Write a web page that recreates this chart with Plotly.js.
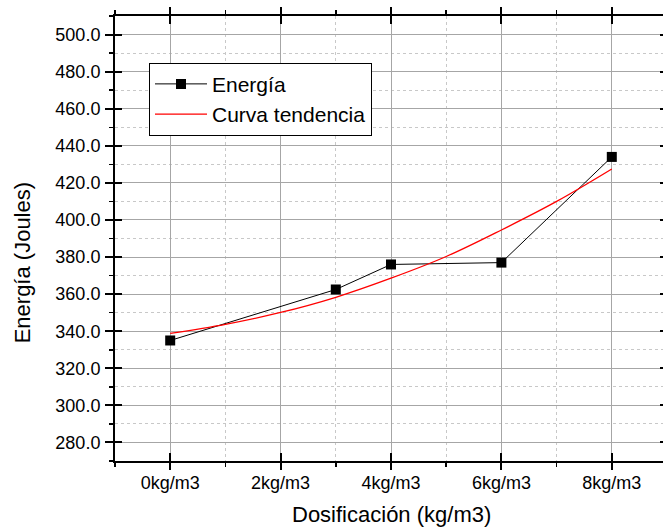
<!DOCTYPE html>
<html>
<head>
<meta charset="utf-8">
<script src="https://cdn.plot.ly/plotly-3.0.1.min.js"></script>
<style>
  html, body { margin: 0; padding: 0; overflow: hidden; background: #ffffff; }
  #chart { width: 700px; height: 529px; }
</style>
</head>
<body>
<div id="chart"></div>
<script>
// Dosage (kg/m3) and measured energy (J)
const dosage = [0, 3, 4, 6, 8];
const energy = [335, 362.5, 376, 377, 434];

// Trend curve sampled along the dosage axis
const trendX = [0, 1, 2, 3, 4, 5, 6, 7, 8];
const trendY = [338.8, 343.7, 350.1, 358.3, 368.6, 380.3, 394.6, 410.0, 427.5];

// Axis tick labels
const xTickVals = [0, 2, 4, 6, 8];
const xTickText = ['0kg/m3', '2kg/m3', '4kg/m3', '6kg/m3', '8kg/m3'];

const FONT = 'Arial, "Liberation Sans", sans-serif';

const traces = [
  {
    x: dosage, y: energy, name: 'Energía',
    type: 'scatter', mode: 'lines+markers',
    line: { color: '#000000', width: 1 },
    marker: { symbol: 'square', size: 10, color: '#000000' }
  },
  {
    x: trendX, y: trendY, name: 'Curva tendencia',
    type: 'scatter', mode: 'lines',
    line: { color: '#ff0000', width: 1.3, shape: 'spline' }
  },
  // carrier for the inward tick overlay axes
  { x: [], y: [], xaxis: 'x2', yaxis: 'y2', showlegend: false, hoverinfo: 'skip' }
];

const xRange = [-1, 9];
const yRange = [270, 510];

const layout = {
  width: 700, height: 529,
  margin: { l: 115, r: 33, t: 16, b: 68 },
  paper_bgcolor: '#ffffff', plot_bgcolor: '#ffffff',
  font: { family: FONT, color: '#000000', size: 18 },
  showlegend: true,
  legend: {
    x: 0.0616, y: 0.895, xanchor: 'left', yanchor: 'top',
    bgcolor: '#ffffff', bordercolor: '#000000', borderwidth: 1,
    font: { family: FONT, size: 21, color: '#000000' },
    itemwidth: 52, tracegroupgap: 0
  },
  xaxis: {
    range: xRange, tickmode: 'array', tickvals: xTickVals, ticktext: xTickText,
    ticks: 'outside', ticklen: 7, tickwidth: 2, tickcolor: '#000000',
    showline: true, linewidth: 2, linecolor: '#000000', mirror: 'ticks',
    showgrid: true, gridcolor: '#a6a6a6', gridwidth: 1, zeroline: false,
    tickfont: { family: FONT, size: 18, color: '#000000' },
    ticklabelstandoff: -3,
    minor: {
      tickmode: 'linear', tick0: 0, dtick: 1,
      ticks: 'outside', ticklen: 4, tickwidth: 1.5, tickcolor: '#000000',
      showgrid: true, gridcolor: '#c8c8c8', griddash: 'dot', gridwidth: 1
    }
  },
  yaxis: {
    range: yRange, tickmode: 'linear', tick0: 0, dtick: 20, tickformat: '.1f',
    ticks: 'outside', ticklen: 8, tickwidth: 2, tickcolor: '#000000',
    showline: true, linewidth: 2, linecolor: '#000000', mirror: 'ticks',
    showgrid: true, gridcolor: '#a6a6a6', gridwidth: 1, zeroline: false,
    tickfont: { family: FONT, size: 18, color: '#000000' },
    ticklabelstandoff: 1,
    minor: {
      tickmode: 'linear', tick0: 0, dtick: 10,
      ticks: 'outside', ticklen: 4, tickwidth: 1.5, tickcolor: '#000000',
      showgrid: true, gridcolor: '#c8c8c8', griddash: 'dot', gridwidth: 1
    }
  },
  // inward halves of the major ticks
  xaxis2: {
    overlaying: 'x', anchor: 'y2', side: 'bottom', range: xRange,
    tickmode: 'array', tickvals: xTickVals,
    ticks: 'inside', ticklen: 8, tickwidth: 2, tickcolor: '#000000',
    showticklabels: false, showgrid: false, zeroline: false, showline: false,
    mirror: 'ticks'
  },
  yaxis2: {
    overlaying: 'y', anchor: 'x2', side: 'left', range: yRange,
    tickmode: 'linear', tick0: 0, dtick: 20,
    ticks: 'inside', ticklen: 7, tickwidth: 2, tickcolor: '#000000',
    showticklabels: false, showgrid: false, zeroline: false, showline: false,
    mirror: 'ticks'
  },
  annotations: [
    {
      text: 'Dosificación (kg/m3)', xref: 'paper', yref: 'paper',
      x: 0.5, y: -0.121, xanchor: 'center', yanchor: 'middle', showarrow: false,
      font: { family: FONT, size: 22, color: '#000000' }
    },
    {
      text: 'Energía (Joules)', xref: 'paper', yref: 'paper', textangle: -90,
      x: -0.166, y: 0.445, xanchor: 'center', yanchor: 'middle', showarrow: false,
      font: { family: FONT, size: 22, color: '#000000' }
    }
  ]
};

Plotly.newPlot('chart', traces, layout, { displayModeBar: false, staticPlot: true });
</script>
</body>
</html>
